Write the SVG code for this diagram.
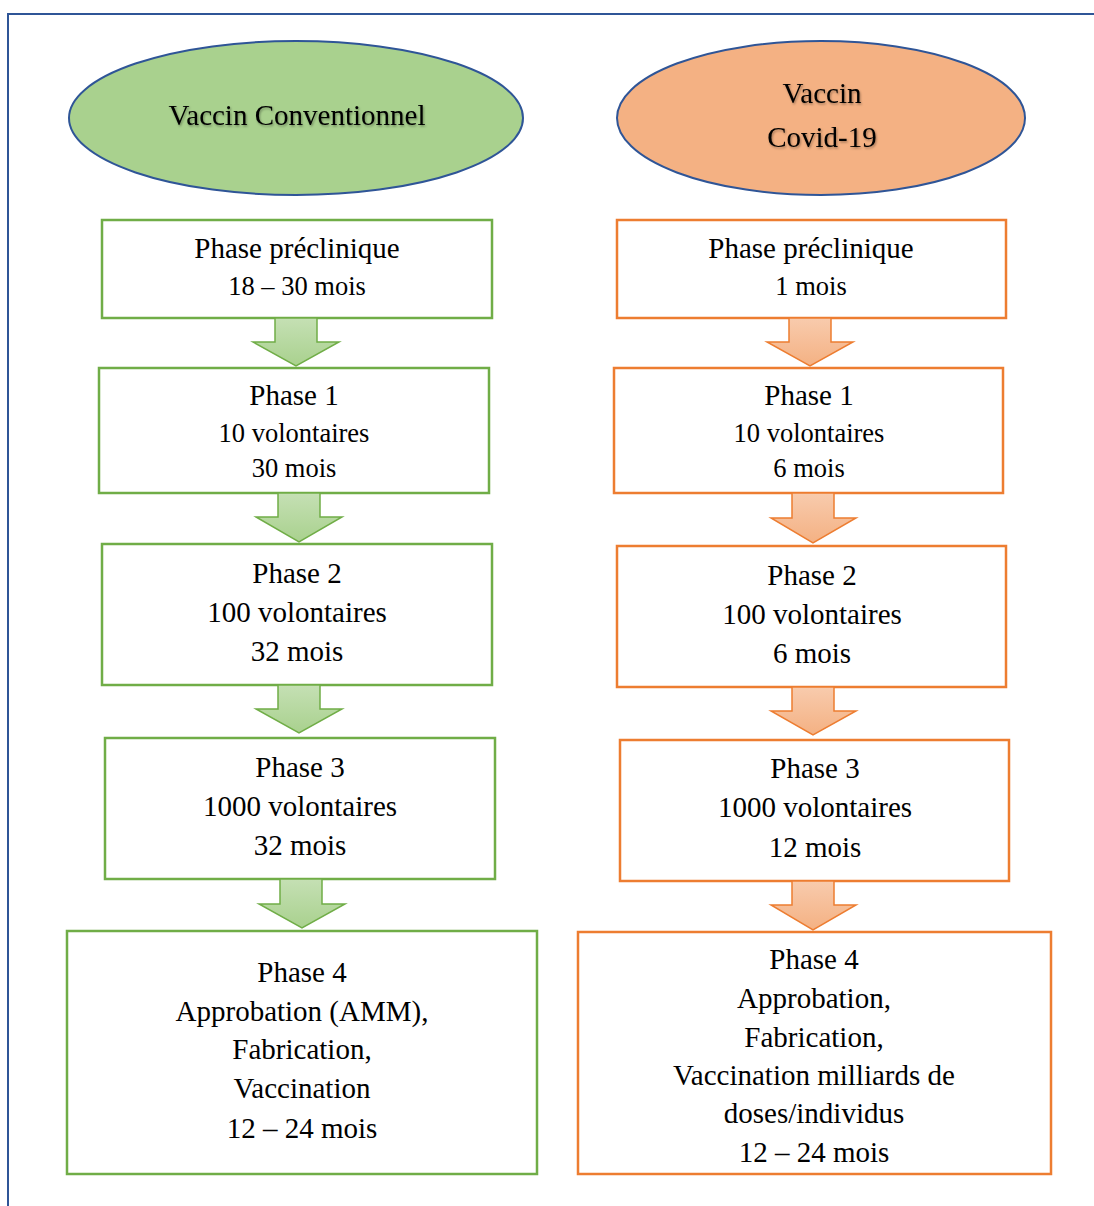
<svg xmlns="http://www.w3.org/2000/svg" width="1094" height="1206" viewBox="0 0 1094 1206">
<defs>
<linearGradient id="gG" x1="0" y1="0" x2="0" y2="1"><stop offset="0" stop-color="#c5e0b4"/><stop offset="1" stop-color="#a9d18e"/></linearGradient>
<linearGradient id="gO" x1="0" y1="0" x2="0" y2="1"><stop offset="0" stop-color="#f8cbad"/><stop offset="1" stop-color="#f4b183"/></linearGradient>
<filter id="sh" x="-10%" y="-30%" width="120%" height="160%"><feDropShadow dx="1" dy="1.5" stdDeviation="1" flood-color="#000" flood-opacity="0.35"/></filter>
</defs>
<style>
text{font-family:"Liberation Serif","Times New Roman",serif;fill:#000;text-anchor:middle}
.t26{font-size:29px}
.t22{font-size:26.5px}
.bg{fill:#fff;stroke:#70ad47;stroke-width:2.5}
.bo{fill:#fff;stroke:#ed7d31;stroke-width:2.5}
.ag{fill:url(#gG);stroke:#70ad47;stroke-width:1.5;stroke-linejoin:miter}
.ao{fill:url(#gO);stroke:#ed7d31;stroke-width:1.5;stroke-linejoin:miter}
.frame{fill:none;stroke:#2f5597;stroke-width:2}
.ell{stroke:#2f5597;stroke-width:2}
</style>
<rect width="1094" height="1206" fill="#fff"/>
<path class="frame" d="M8 1206 V14 H1094"/>

<g id="ell-conv">
<ellipse class="ell" cx="296" cy="118" rx="227" ry="77" fill="#a9d18e"/>
<text class="t26" x="297" y="125" filter="url(#sh)">Vaccin Conventionnel</text>
</g>
<g id="ell-covid">
<ellipse class="ell" cx="821" cy="118" rx="204" ry="77" fill="#f4b183"/>
<text class="t26" x="822" y="103" filter="url(#sh)">Vaccin</text>
<text class="t26" x="822" y="147" filter="url(#sh)">Covid-19</text>
</g>

<g id="L-pre"><rect class="bg" x="102" y="220" width="390" height="98"/>
<text class="t26" x="297" y="258">Phase préclinique</text><text class="t22" x="297" y="295">18 – 30 mois</text></g>
<g id="L-p1"><rect class="bg" x="99" y="368" width="390" height="125"/>
<text class="t26" x="294" y="405">Phase 1</text><text class="t22" x="294" y="442">10 volontaires</text><text class="t22" x="294" y="477">30 mois</text></g>
<g id="L-p2"><rect class="bg" x="102" y="544" width="390" height="141"/>
<text class="t26" x="297" y="583">Phase 2</text><text class="t26" x="297" y="622">100 volontaires</text><text class="t26" x="297" y="661">32 mois</text></g>
<g id="L-p3"><rect class="bg" x="105" y="738" width="390" height="141"/>
<text class="t26" x="300" y="777">Phase 3</text><text class="t26" x="300" y="816">1000 volontaires</text><text class="t26" x="300" y="855">32 mois</text></g>
<g id="L-p4"><rect class="bg" x="67" y="931" width="470" height="243"/>
<text class="t26" x="302" y="982">Phase 4</text><text class="t26" x="302" y="1021">Approbation (AMM),</text><text class="t26" x="302" y="1059">Fabrication,</text><text class="t26" x="302" y="1098">Vaccination</text><text class="t26" x="302" y="1138">12 – 24 mois</text></g>

<g id="R-pre"><rect class="bo" x="617" y="220" width="389" height="98"/>
<text class="t26" x="811" y="258">Phase préclinique</text><text class="t22" x="811" y="295">1 mois</text></g>
<g id="R-p1"><rect class="bo" x="614" y="368" width="389" height="125"/>
<text class="t26" x="809" y="405">Phase 1</text><text class="t22" x="809" y="442">10 volontaires</text><text class="t22" x="809" y="477">6 mois</text></g>
<g id="R-p2"><rect class="bo" x="617" y="546" width="389" height="141"/>
<text class="t26" x="812" y="585">Phase 2</text><text class="t26" x="812" y="624">100 volontaires</text><text class="t26" x="812" y="663">6 mois</text></g>
<g id="R-p3"><rect class="bo" x="620" y="740" width="389" height="141"/>
<text class="t26" x="815" y="778">Phase 3</text><text class="t26" x="815" y="817">1000 volontaires</text><text class="t26" x="815" y="857">12 mois</text></g>
<g id="R-p4"><rect class="bo" x="578" y="932" width="473" height="242"/>
<text class="t26" x="814" y="969">Phase 4</text><text class="t26" x="814" y="1008">Approbation,</text><text class="t26" x="814" y="1047">Fabrication,</text><text class="t26" x="814" y="1085">Vaccination milliards de</text><text class="t26" x="814" y="1123">doses/individus</text><text class="t26" x="814" y="1162">12 – 24 mois</text></g>

<g id="connectors">
<path class="ag" d="M275 318 H317 V342 H339 L296 366 L253 342 H275 Z"/>
<path class="ag" d="M278 493 H320 V517 H342 L299 542 L256 517 H278 Z"/>
<path class="ag" d="M278 685 H320 V709 H342 L299 733 L256 709 H278 Z"/>
<path class="ag" d="M280 879 H322 V904 H345 L302 928 L259 904 H280 Z"/>
<path class="ao" d="M789 318 H831 V342 H853 L810 366 L767 342 H789 Z"/>
<path class="ao" d="M792 493 H834 V518 H856 L813 543 L771 518 H792 Z"/>
<path class="ao" d="M792 687 H834 V711 H856 L813 735 L771 711 H792 Z"/>
<path class="ao" d="M792 881 H834 V905 H856 L813 930 L771 905 H792 Z"/>
</g>
</svg>
